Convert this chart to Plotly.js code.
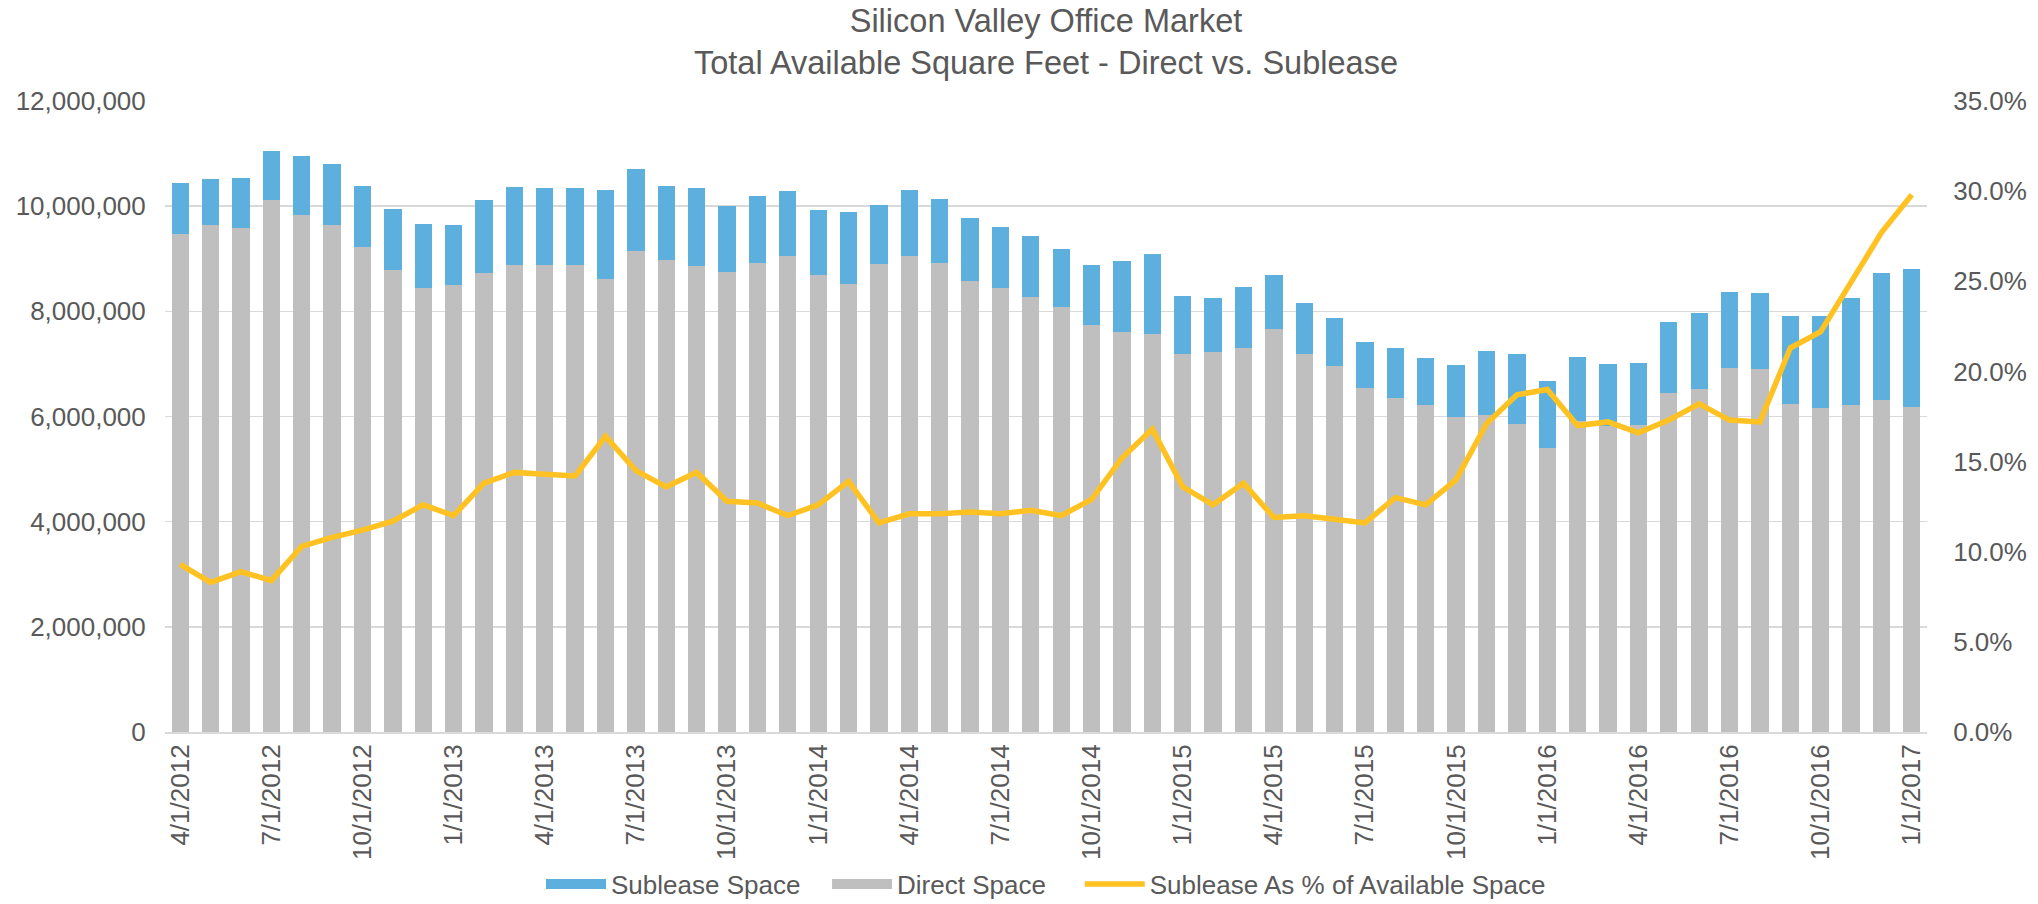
<!DOCTYPE html>
<html>
<head>
<meta charset="utf-8">
<script src="https://cdn.plot.ly/plotly-3.0.1.min.js"></script>
<style>
html,body{margin:0;padding:0;background:#fff;}
#chart{width:2038px;height:904px;}
</style>
</head>
<body>
<div id="chart"></div>
<script>
const months = [
  "4/1/2012","5/1/2012","6/1/2012","7/1/2012","8/1/2012","9/1/2012","10/1/2012","11/1/2012","12/1/2012",
  "1/1/2013","2/1/2013","3/1/2013","4/1/2013","5/1/2013","6/1/2013","7/1/2013","8/1/2013","9/1/2013","10/1/2013","11/1/2013","12/1/2013",
  "1/1/2014","2/1/2014","3/1/2014","4/1/2014","5/1/2014","6/1/2014","7/1/2014","8/1/2014","9/1/2014","10/1/2014","11/1/2014","12/1/2014",
  "1/1/2015","2/1/2015","3/1/2015","4/1/2015","5/1/2015","6/1/2015","7/1/2015","8/1/2015","9/1/2015","10/1/2015","11/1/2015","12/1/2015",
  "1/1/2016","2/1/2016","3/1/2016","4/1/2016","5/1/2016","6/1/2016","7/1/2016","8/1/2016","9/1/2016","10/1/2016","11/1/2016","12/1/2016",
  "1/1/2017"
];

const tickLabels = [
  "4/1/2012","7/1/2012","10/1/2012","1/1/2013","4/1/2013","7/1/2013","10/1/2013",
  "1/1/2014","4/1/2014","7/1/2014","10/1/2014","1/1/2015","4/1/2015","7/1/2015",
  "10/1/2015","1/1/2016","4/1/2016","7/1/2016","10/1/2016","1/1/2017"
];

const directSpace = [
  9480000,9650000,9590000,10120000,9840000,9650000,9220000,8780000,8440000,
  8500000,8730000,8880000,8880000,8880000,8610000,9150000,8980000,8860000,8740000,8920000,9060000,
  8690000,8520000,8900000,9060000,8920000,8580000,8440000,8270000,8090000,7740000,7610000,7570000,
  7180000,7230000,7300000,7660000,7180000,6960000,6550000,6350000,6220000,6000000,6030000,5850000,
  5400000,5920000,5810000,5840000,6450000,6530000,6920000,6910000,6230000,6160000,6210000,6310000,
  6180000
];

const subleaseSpace = [
  970000,860000,940000,930000,1120000,1160000,1160000,1170000,1220000,
  1150000,1390000,1480000,1470000,1460000,1690000,1550000,1410000,1490000,1260000,1280000,1230000,
  1240000,1370000,1130000,1240000,1210000,1190000,1170000,1160000,1100000,1140000,1350000,1520000,
  1120000,1030000,1170000,1030000,980000,920000,860000,950000,890000,970000,1220000,1340000,
  1270000,1210000,1190000,1170000,1350000,1440000,1450000,1430000,1690000,1750000,2040000,2420000,
  2620000
];

const subleasePct = [
  0.093,0.083,0.089,0.084,0.103,0.108,0.112,0.117,0.126,
  0.120,0.138,0.144,0.143,0.142,0.164,0.145,0.136,0.144,0.128,0.127,0.120,
  0.126,0.139,0.116,0.121,0.121,0.122,0.121,0.123,0.120,0.129,0.152,0.168,
  0.136,0.126,0.138,0.119,0.120,0.118,0.116,0.130,0.126,0.140,0.171,0.187,
  0.190,0.170,0.172,0.166,0.173,0.182,0.173,0.172,0.213,0.222,0.249,0.277,
  0.298
];

const textColor = "#595959";
const fontFam = "'Liberation Sans', Arial, sans-serif";
const blue = "#5DB0DD", gray = "#BFBFBF", gold = "#FFC222";
const nb = "\u00a0";

const traces = [
  {
    type: "bar", name: "Direct Space", x: months, y: directSpace,
    marker: {color: gray}, showlegend: false, hoverinfo: "skip"
  },
  {
    type: "bar", name: "Sublease Space", x: months, y: subleaseSpace,
    marker: {color: blue}, showlegend: false, hoverinfo: "skip"
  },
  {
    type: "scatter", mode: "lines", name: "Sublease As % of Available Space",
    x: months, y: subleasePct, yaxis: "y2",
    line: {color: gold, width: 5.5}, legendrank: 3, hoverinfo: "skip"
  },
  // legend-only entries with wide swatches for the bar series
  {
    type: "scatter", mode: "lines", name: "Sublease Space" + nb + nb + nb,
    x: [null], y: [null], line: {color: blue, width: 20},
    legendrank: 1, hoverinfo: "skip"
  },
  {
    type: "scatter", mode: "lines", name: "Direct Space" + nb + nb + nb + nb,
    x: [null], y: [null], line: {color: gray, width: 20},
    legendrank: 2, hoverinfo: "skip"
  }
];

const layout = {
  width: 2038, height: 904,
  paper_bgcolor: "#ffffff", plot_bgcolor: "#ffffff",
  font: {family: fontFam, size: 26, color: textColor},
  margin: {l: 165, r: 111, t: 101, b: 172, pad: 0, autoexpand: false},
  title: {
    text: "Silicon Valley Office Market<br>Total Available Square Feet - Direct vs. Sublease",
    font: {family: fontFam, size: 32.5, color: textColor},
    x: 0.5, xref: "paper", xanchor: "center",
    y: 0.965, yref: "container", yanchor: "top"
  },
  barmode: "stack",
  bargap: 0.43,
  showlegend: true,
  legend: {
    orientation: "h", x: 0.5, xanchor: "center",
    yref: "container", y: 0.022, yanchor: "middle",
    bgcolor: "rgba(0,0,0,0)",
    font: {family: fontFam, size: 26, color: textColor},
    traceorder: "normal", itemwidth: 60
  },
  xaxis: {
    type: "category",
    categoryorder: "array", categoryarray: months,
    tickmode: "array", tickvals: tickLabels, ticktext: tickLabels,
    tickangle: -90,
    ticks: "", ticklen: 0,
    showline: true, linecolor: "#D9D9D9", linewidth: 2,
    showgrid: false,
    tickfont: {family: fontFam, size: 26, color: textColor}
  },
  yaxis: {
    range: [0, 12000000], dtick: 2000000, tick0: 0,
    tickformat: ",d",
    showgrid: true, gridcolor: "#D9D9D9", gridwidth: 1.5,
    zeroline: false, showline: false,
    ticks: "outside", ticklen: 13, tickcolor: "rgba(0,0,0,0)",
    tickfont: {family: fontFam, size: 26, color: textColor}
  },
  yaxis2: {
    overlaying: "y", side: "right",
    range: [0, 0.35], dtick: 0.05, tick0: 0,
    tickformat: ".1%",
    showgrid: false, zeroline: false, showline: false,
    ticks: "outside", ticklen: 20, tickcolor: "rgba(0,0,0,0)",
    tickfont: {family: fontFam, size: 26, color: textColor}
  }
};

Plotly.newPlot("chart", traces, layout, {displayModeBar: false, staticPlot: true});
</script>
</body>
</html>
